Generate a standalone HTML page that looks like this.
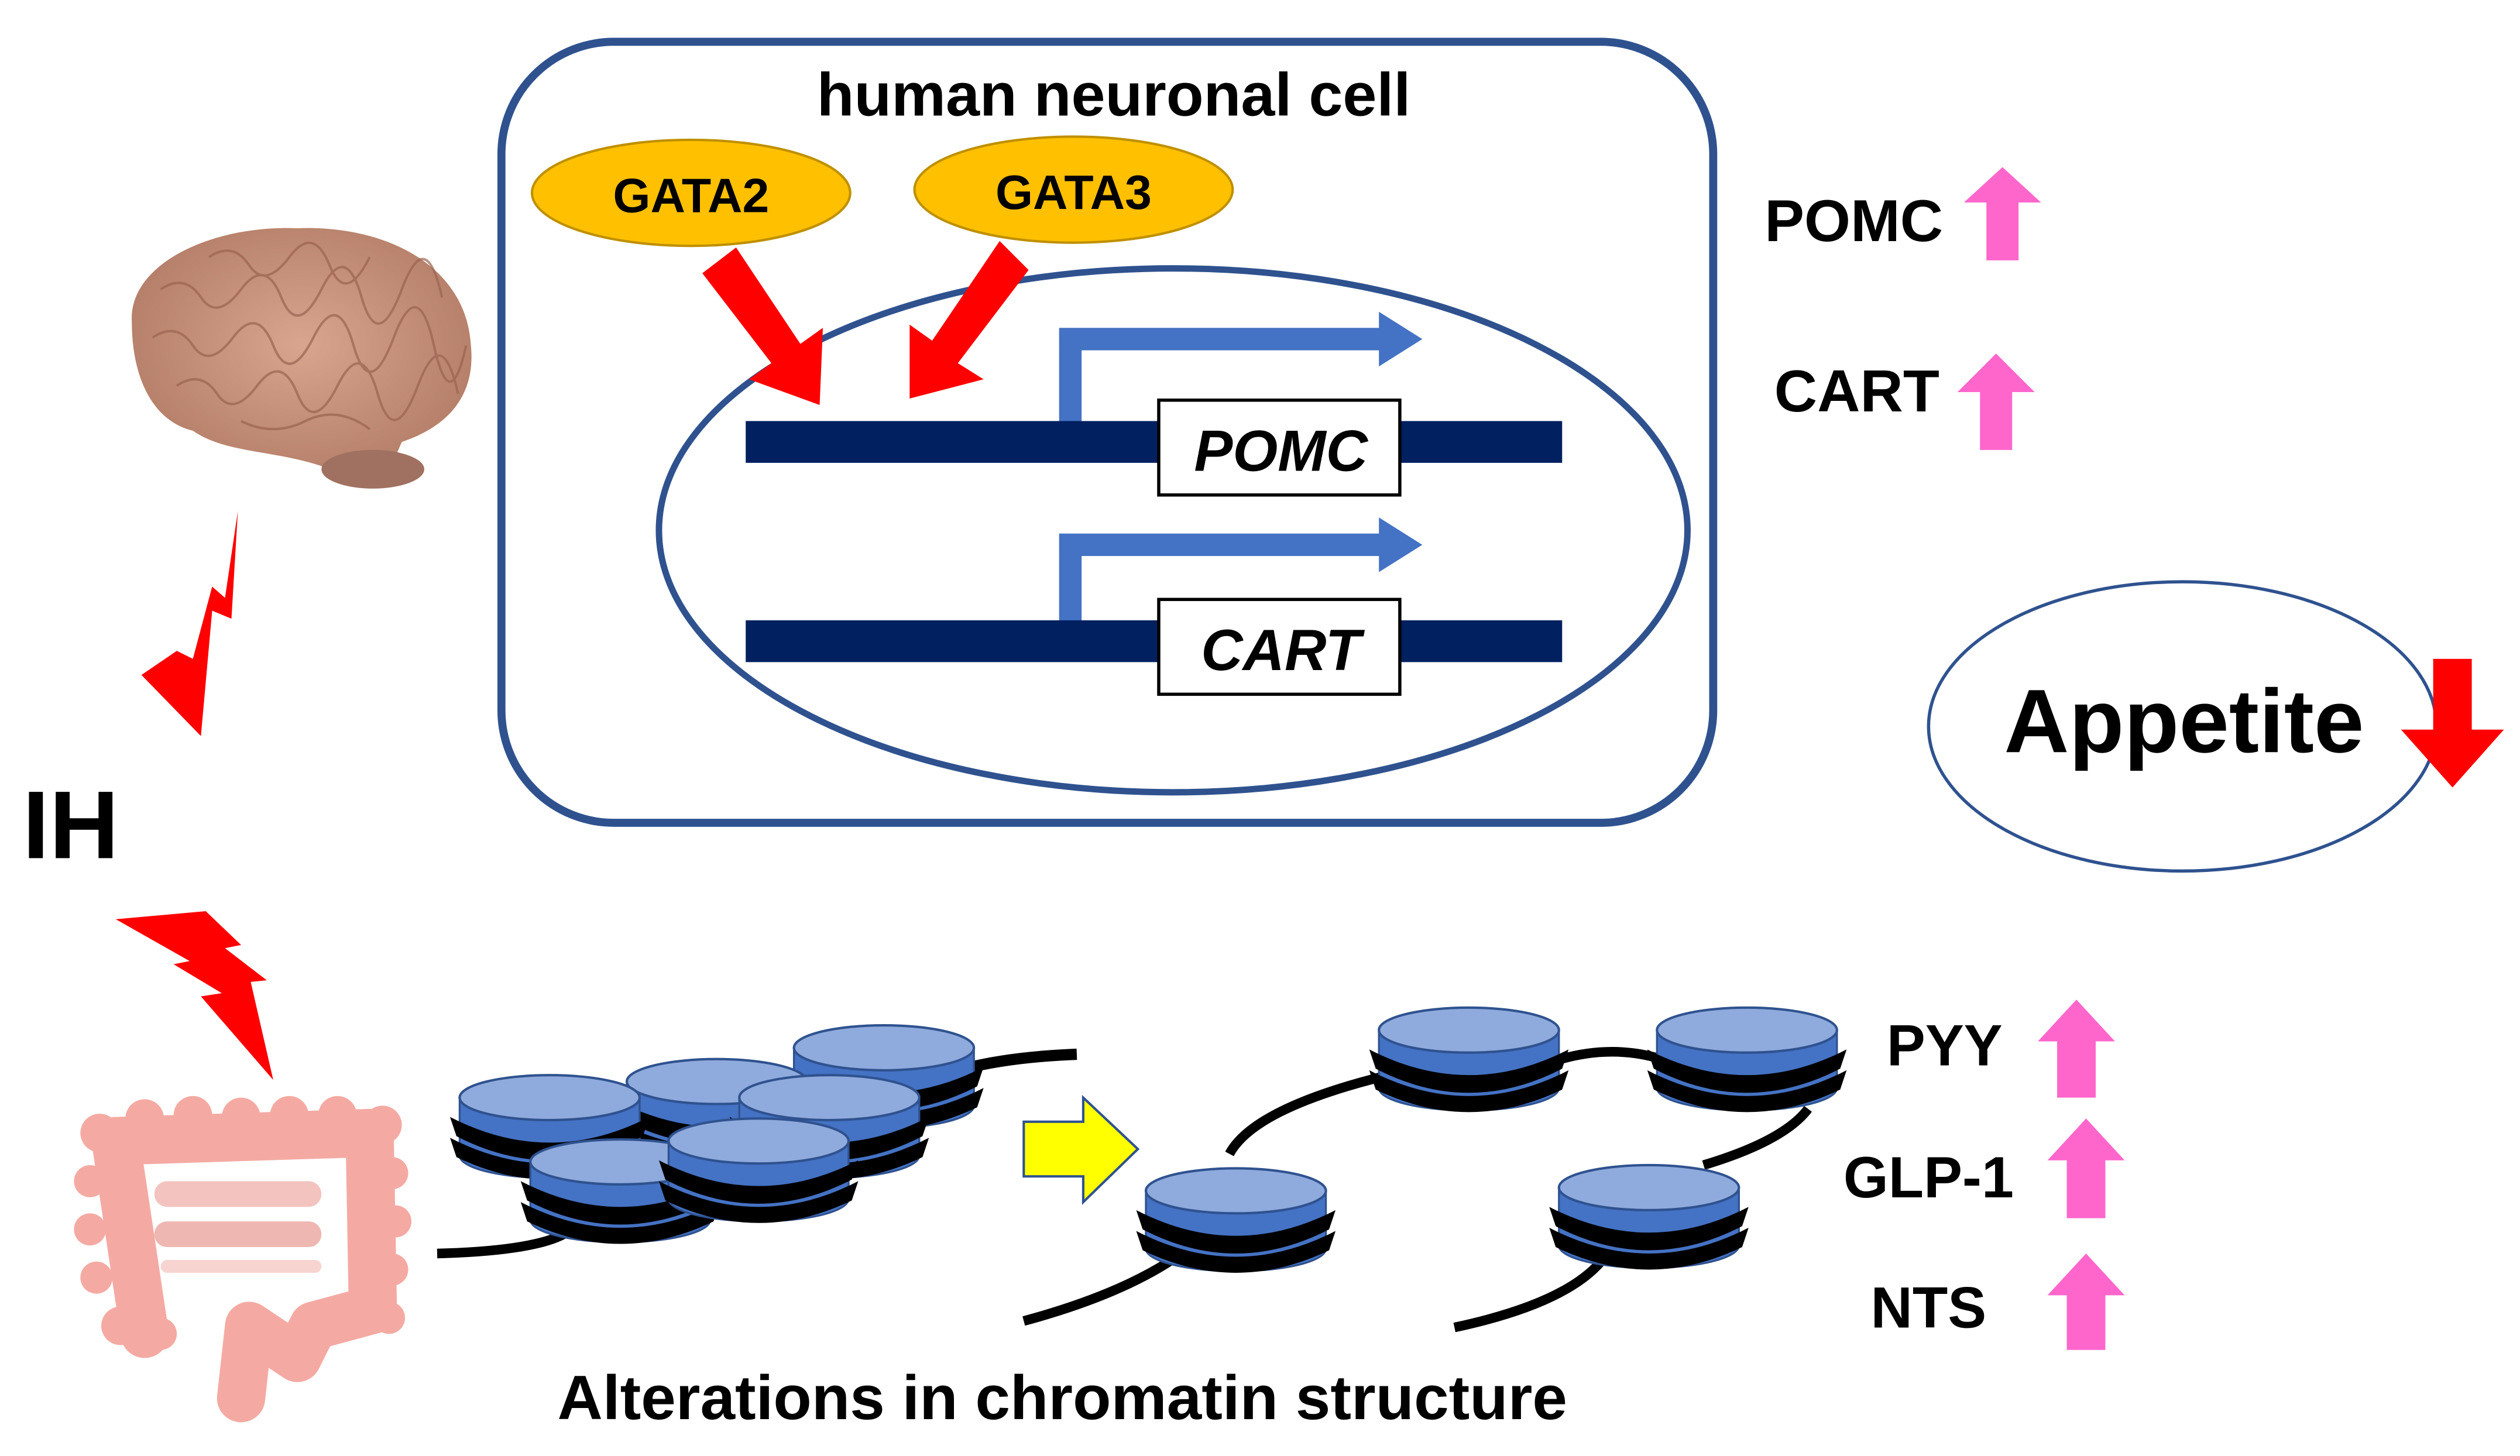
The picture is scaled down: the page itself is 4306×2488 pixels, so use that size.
<!DOCTYPE html>
<html><head><meta charset="utf-8"><style>
html,body{margin:0;padding:0;background:#fff;}
svg{display:block;}
text{font-family:"Liberation Sans",Arial,sans-serif;font-weight:bold;}
</style></head><body>
<svg width="4306" height="2488" viewBox="0 0 1568 906" xmlns="http://www.w3.org/2000/svg">
<defs>
<g id="nuc">
  <path d="M-56,0 L-56,36 A56,14 0 0 0 56,36 L56,0 Z" fill="#4472c4" stroke="#2f528f" stroke-width="1.2"/>
  <path d="M-62,12 Q0,44 62,12 L58,24 Q0,54 -58,24 Z" fill="#000"/>
  <path d="M-62,25 Q0,57 62,25 L58,37 Q0,65 -58,37 Z" fill="#000"/>
  <ellipse cx="0" cy="0" rx="56" ry="14" fill="#8faadc" stroke="#2f528f" stroke-width="1.5"/>
</g>
<radialGradient id="br" cx="50%" cy="45%" r="60%"><stop offset="0" stop-color="#d9a58e"/><stop offset="1" stop-color="#b07a64"/></radialGradient>
</defs>

<rect x="312" y="26" width="754" height="486" rx="70" fill="none" stroke="#2f528f" stroke-width="5"/>
<text x="693" y="72" font-size="38" text-anchor="middle">human neuronal cell</text>
<ellipse cx="430" cy="120" rx="99" ry="33" fill="#ffc000" stroke="#bf9000" stroke-width="1.5"/>
<text x="430" y="132" font-size="30" text-anchor="middle">GATA2</text>
<ellipse cx="668" cy="118" rx="99" ry="33" fill="#ffc000" stroke="#bf9000" stroke-width="1.5"/>
<text x="668" y="130" font-size="30" text-anchor="middle">GATA3</text>
<ellipse cx="730" cy="330" rx="320" ry="163" fill="none" stroke="#2f528f" stroke-width="4"/>
<polygon points="437,170 458,154 498,214 512,204 510,252 466,236 480,226" fill="#f00"/>
<polygon points="640,168 622,150 580,212 566,202 566,248 612,236 596,226" fill="#f00"/>
<rect x="464" y="262" width="508" height="26" fill="#002060"/>
<rect x="464" y="386" width="508" height="26" fill="#002060"/>
<path d="M666,262 L666,211 L860,211" fill="none" stroke="#4472c4" stroke-width="14"/>
<polygon points="858,194 885,211 858,228" fill="#4472c4"/>
<path d="M666,386 L666,339 L860,339" fill="none" stroke="#4472c4" stroke-width="14"/>
<polygon points="858,322 885,339 858,356" fill="#4472c4"/>
<rect x="721" y="249" width="150" height="59" fill="#fff" stroke="#000" stroke-width="2"/>
<text x="797" y="293" font-size="36" font-style="italic" text-anchor="middle">POMC</text>
<rect x="721" y="373" width="150" height="59" fill="#fff" stroke="#000" stroke-width="2"/>
<text x="797" y="417" font-size="36" font-style="italic" text-anchor="middle">CART</text>

<text x="1098" y="150" font-size="37">POMC</text>
<polygon points="1236,162 1236,126 1222,126 1246,104 1270,126 1256,126 1256,162" fill="#ff66cc"/>
<text x="1104" y="256" font-size="37">CART</text>
<polygon points="1232,280 1232,244 1218,244 1242,220 1266,244 1252,244 1252,280" fill="#ff66cc"/>
<ellipse cx="1358" cy="452" rx="158" ry="90" fill="none" stroke="#2f528f" stroke-width="2"/>
<text x="1247" y="468" font-size="56">Appetite</text>
<polygon points="1514,410 1538,410 1538,454 1558,454 1526,490 1494,454 1514,454" fill="#f00"/>

<text x="1210" y="663" font-size="36" text-anchor="middle">PYY</text>
<polygon points="1280,683 1280,648 1268,648 1292,622 1316,648 1304,648 1304,683" fill="#ff66cc"/>
<text x="1200" y="745" font-size="36" text-anchor="middle">GLP-1</text>
<polygon points="1286,758 1286,722 1274,722 1298,696 1322,722 1310,722 1310,758" fill="#ff66cc"/>
<text x="1200" y="826" font-size="36" text-anchor="middle">NTS</text>
<polygon points="1286,840 1286,806 1274,806 1298,780 1322,806 1310,806 1310,840" fill="#ff66cc"/>

<text x="661" y="883" font-size="39" text-anchor="middle">Alterations in chromatin structure</text>

<text x="14" y="534" font-size="60">IH</text>
<polygon points="148,318 144,385 132,380 125,458 88,420 110,405 120,410 132,365 140,372" fill="#f00"/>
<polygon points="72,572 128,567 150,588 140,590 166,610 156,611 170,672 125,620 138,618 108,600 118,598" fill="#f00"/>

<path d="M82,200 C80,165 130,140 185,142 C240,140 290,165 293,215 C296,245 280,265 250,275 L240,298 C225,306 210,302 200,290 C170,280 140,282 120,268 C95,262 82,235 82,200 Z" fill="url(#br)"/>
<g fill="none" stroke="#9a6450" stroke-width="1.5" opacity="0.7">
<path d="M100,180 q15,-10 25,5 t25,-5 t25,5 t25,-5 t25,5 t25,-5 t25,5"/>
<path d="M95,210 q15,-10 25,5 t25,-5 t25,5 t25,-5 t25,5 t25,-5 t25,5 t20,0"/>
<path d="M110,240 q15,-10 25,5 t25,-5 t25,5 t25,-5 t25,5 t25,-5 t25,5"/>
<path d="M130,160 q15,-10 25,5 t25,-5 t25,5 t25,-5"/>
<path d="M150,262 q20,10 40,0 t40,5"/>
</g>
<ellipse cx="232" cy="292" rx="32" ry="12" fill="#a07060"/>

<!-- colon as bumpy frame -->
<g fill="#f4aaa3" stroke="#f4aaa3" stroke-width="30" stroke-linecap="round" stroke-linejoin="round">
<path d="M90,830 L72,710 L230,705 L232,815 L195,825 L185,845 L155,825 L150,870" fill="none"/>
</g>
<g fill="#f4aaa3">
<circle cx="62" cy="705" r="12"/><circle cx="90" cy="696" r="12"/><circle cx="120" cy="694" r="12"/><circle cx="150" cy="695" r="12"/><circle cx="180" cy="694" r="12"/><circle cx="210" cy="694" r="12"/><circle cx="238" cy="700" r="12"/>
<circle cx="244" cy="730" r="10"/><circle cx="246" cy="760" r="10"/><circle cx="244" cy="790" r="10"/><circle cx="242" cy="820" r="10"/>
<circle cx="56" cy="735" r="10"/><circle cx="56" cy="765" r="10"/><circle cx="60" cy="795" r="10"/><circle cx="75" cy="825" r="12"/><circle cx="100" cy="830" r="10"/>
</g>
<rect x="96" y="735" width="104" height="16" rx="8" fill="#f3c4bf"/>
<rect x="96" y="760" width="104" height="16" rx="8" fill="#efb7b1"/>
<rect x="100" y="784" width="100" height="8" rx="4" fill="#f7d4d0"/>

<path d="M272,780 Q350,778 360,760" fill="none" stroke="#000" stroke-width="6"/>
<path d="M590,668 Q620,658 670,656" fill="none" stroke="#000" stroke-width="7"/>
<use href="#nuc" x="550" y="652"/>
<use href="#nuc" x="446" y="673"/>
<use href="#nuc" x="342" y="683"/>
<use href="#nuc" x="516" y="683"/>
<use href="#nuc" x="386" y="723"/>
<use href="#nuc" x="472" y="710"/>

<polygon points="637,698 674,698 674,683 708,715 674,748 674,732 637,732" fill="#ff0" stroke="#2f528f" stroke-width="1.5"/>

<g fill="none" stroke="#000" stroke-width="6">
<path d="M637,822 Q700,805 735,780"/>
<path d="M765,718 Q780,690 860,670"/>
<path d="M968,660 Q1000,650 1030,658"/>
<path d="M1060,725 Q1110,710 1125,690"/>
<path d="M905,826 Q980,810 1000,780"/>
</g>
<use href="#nuc" x="914" y="641"/>
<use href="#nuc" x="1087" y="641"/>
<use href="#nuc" x="769" y="741"/>
<use href="#nuc" x="1026" y="739"/>
</svg>
</body></html>
